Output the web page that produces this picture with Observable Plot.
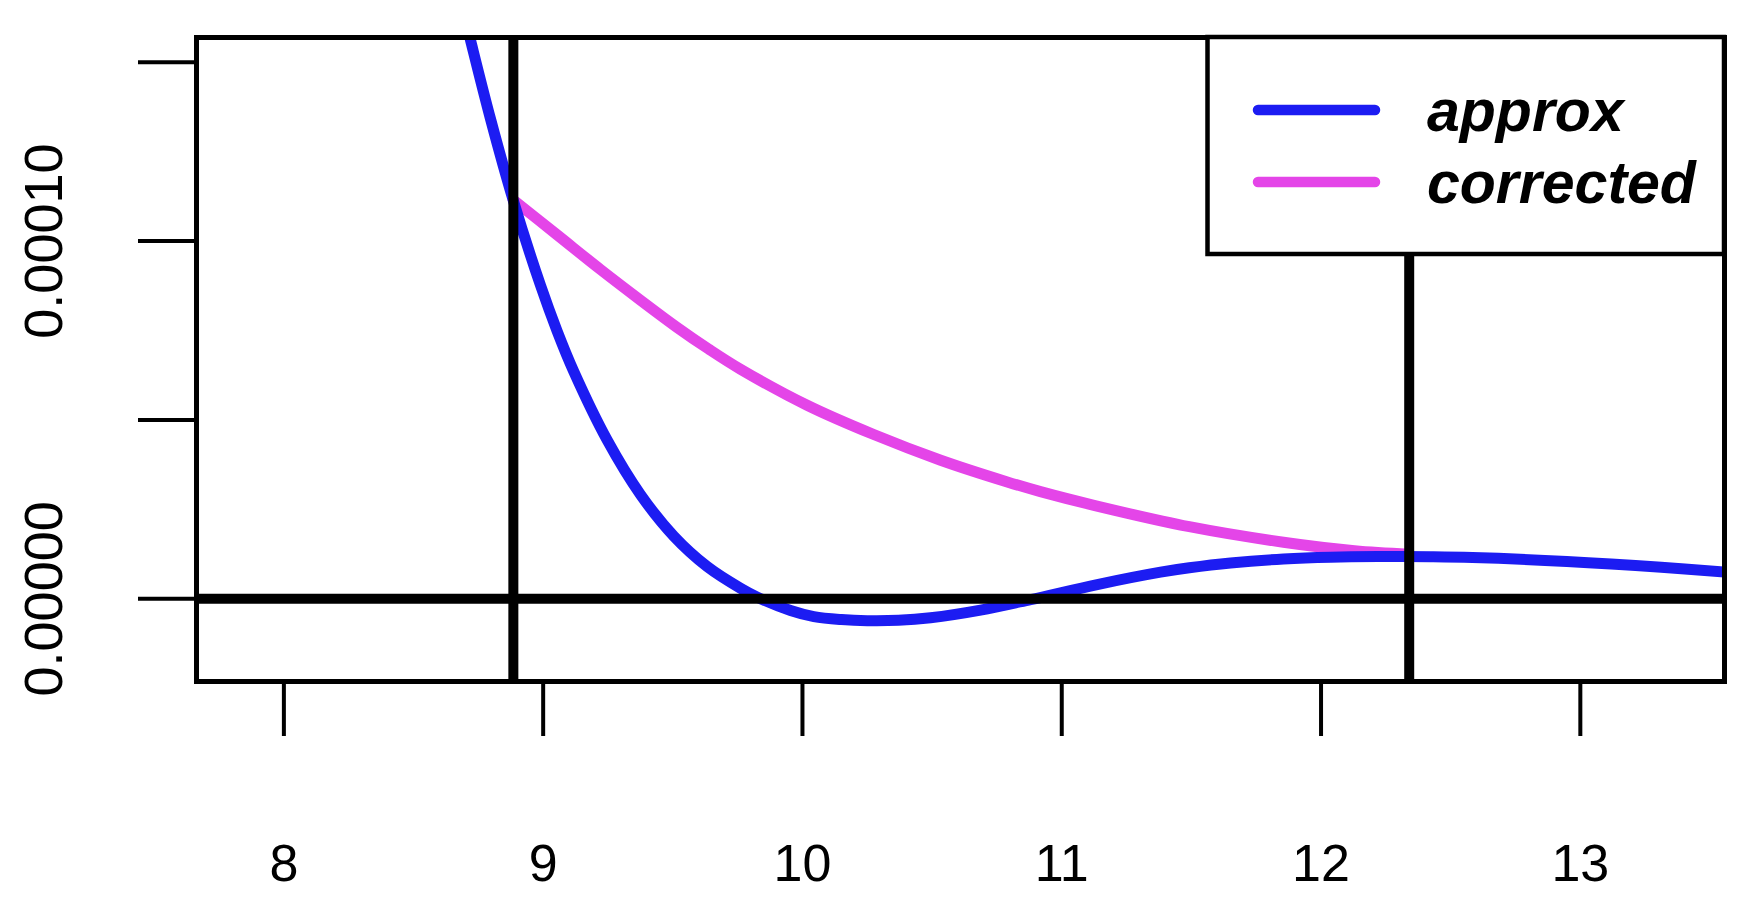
<!DOCTYPE html>
<html>
<head>
<meta charset="utf-8">
<script src="https://cdn.jsdelivr.net/npm/d3@7"></script>
<script src="https://cdn.jsdelivr.net/npm/@observablehq/plot@0.6"></script>
<style>
  html, body { margin: 0; padding: 0; background: white; }
  #wrap { position: relative; width: 1740px; height: 902px; }
  #legend { position: absolute; left: 0; top: 0; pointer-events: none; }
</style>
</head>
<body>
<div id="wrap"></div>
<script>
// ---- data ----
const approxX = [8.680, 8.720, 8.797, 8.884, 8.990, 9.054, 9.118, 9.247, 9.376, 9.504, 9.633, 9.761, 9.826, 9.954, 10.044, 10.150, 10.250, 10.370, 10.494, 10.687, 10.880, 11.137, 11.381, 11.492, 11.651, 11.855, 12.037, 12.220, 12.422, 12.584, 12.948, 13.312, 13.556];
const approxY = [0.0001679, 0.00015608, 0.00013411, 0.00011154, 0.00008756, 0.00007481, 0.00006355, 0.00004436, 0.00002908, 0.00001752, 0.00000901, 0.00000298, 0.00000047, -0.00000325, -0.00000496, -0.00000578, -0.00000609, -0.00000598, -0.00000526, -0.00000313, -0.00000020, 0.00000400, 0.00000746, 0.00000868, 0.00001003, 0.00001115, 0.00001166, 0.00001181, 0.00001175, 0.00001154, 0.00001045, 0.00000885, 0.00000751];

const correctedX = [8.884, 9.054, 9.221, 9.376, 9.514, 9.638, 9.761, 10.018, 10.275, 10.533, 10.790, 10.918, 11.128, 11.492, 11.855, 12.129, 12.339];
const correctedY = [0.00011154, 0.00010173, 0.00009206, 0.00008345, 0.00007601, 0.00006983, 0.00006419, 0.00005412, 0.00004593, 0.00003875, 0.00003268, 0.00002997, 0.00002608, 0.00002016, 0.00001582, 0.00001345, 0.00001247];

const vLines = [8.885, 12.34];
const hLines = [0];

const xTicks = [8, 9, 10, 11, 12, 13];
const yTicks = [0, 0.00005, 0.0001, 0.00015];
const yLabelValues = [0, 0.0001];
const yLabelTexts = ["0.00000", "0.00010"];

const legendNames = ["approx", "corrected"];
const legendColors = ["#1c1cf2", "#e445e8"];

// ---- tables built from the arrays ----
const approx = approxX.map((x, i) => ({x, y: approxY[i]}));
const corrected = correctedX.map((x, i) => ({x, y: correctedY[i]}));
const yLabels = yLabelValues.map((v, i) => ({v, label: yLabelTexts[i]}));

const FONT = "'Liberation Sans', Arial, Helvetica, sans-serif";

const chart = Plot.plot({
  width: 1740,
  height: 902,
  marginLeft: 196,
  marginRight: 16,
  marginTop: 37,
  marginBottom: 221,
  x: {domain: [7.663, 13.556]},
  y: {domain: [-0.0000231, 0.0001569]},
  style: {fontFamily: FONT, background: "white", color: "black"},
  marks: [
    Plot.line(corrected, {x: "x", y: "y", stroke: legendColors[1], strokeWidth: 11, curve: "catmull-rom", clip: true}),
    Plot.line(approx, {x: "x", y: "y", stroke: legendColors[0], strokeWidth: 11, curve: "catmull-rom", clip: true}),
    Plot.ruleY(hLines, {stroke: "black", strokeWidth: 10}),
    Plot.ruleX(vLines, {stroke: "black", strokeWidth: 10}),
    Plot.frame({stroke: "black", strokeWidth: 5}),
    Plot.axisX({ticks: xTicks, tickSize: 55, tickPadding: 108, fontSize: 52, strokeWidth: 4, label: null, tickFormat: d => String(d)}),
    Plot.axisY({ticks: yTicks, tickSize: 58, strokeWidth: 4, label: null, tickFormat: () => ""}),
    Plot.text(yLabels, {y: "v", text: "label", frameAnchor: "left", dx: -152, rotate: -90, fontSize: 54, textAnchor: "middle", lineAnchor: "middle", fill: "black"})
  ]
});

const wrap = document.getElementById("wrap");
wrap.appendChild(chart);

// ---- legend (top-right, boxed) ----
const ns = "http://www.w3.org/2000/svg";
const lg = document.createElementNS(ns, "svg");
lg.setAttribute("id", "legend");
lg.setAttribute("width", 1740);
lg.setAttribute("height", 902);
const box = document.createElementNS(ns, "rect");
box.setAttribute("x", 1207.5);
box.setAttribute("y", 37);
box.setAttribute("width", 516.5);
box.setAttribute("height", 217);
box.setAttribute("fill", "white");
box.setAttribute("stroke", "black");
box.setAttribute("stroke-width", 4.5);
lg.appendChild(box);
legendNames.forEach((name, i) => {
  const ly = 110 + i * 72;
  const ln = document.createElementNS(ns, "line");
  ln.setAttribute("x1", 1258);
  ln.setAttribute("x2", 1375);
  ln.setAttribute("y1", ly);
  ln.setAttribute("y2", ly);
  ln.setAttribute("stroke", legendColors[i]);
  ln.setAttribute("stroke-width", 10.5);
  ln.setAttribute("stroke-linecap", "round");
  lg.appendChild(ln);
  const tx = document.createElementNS(ns, "text");
  tx.setAttribute("x", 1427);
  tx.setAttribute("y", 131 + i * 72);
  tx.setAttribute("font-family", FONT);
  tx.setAttribute("font-size", 59);
  tx.setAttribute("font-weight", "bold");
  tx.setAttribute("font-style", "italic");
  tx.setAttribute("fill", "black");
  tx.textContent = name;
  lg.appendChild(tx);
});
wrap.appendChild(lg);
</script>
</body>
</html>
